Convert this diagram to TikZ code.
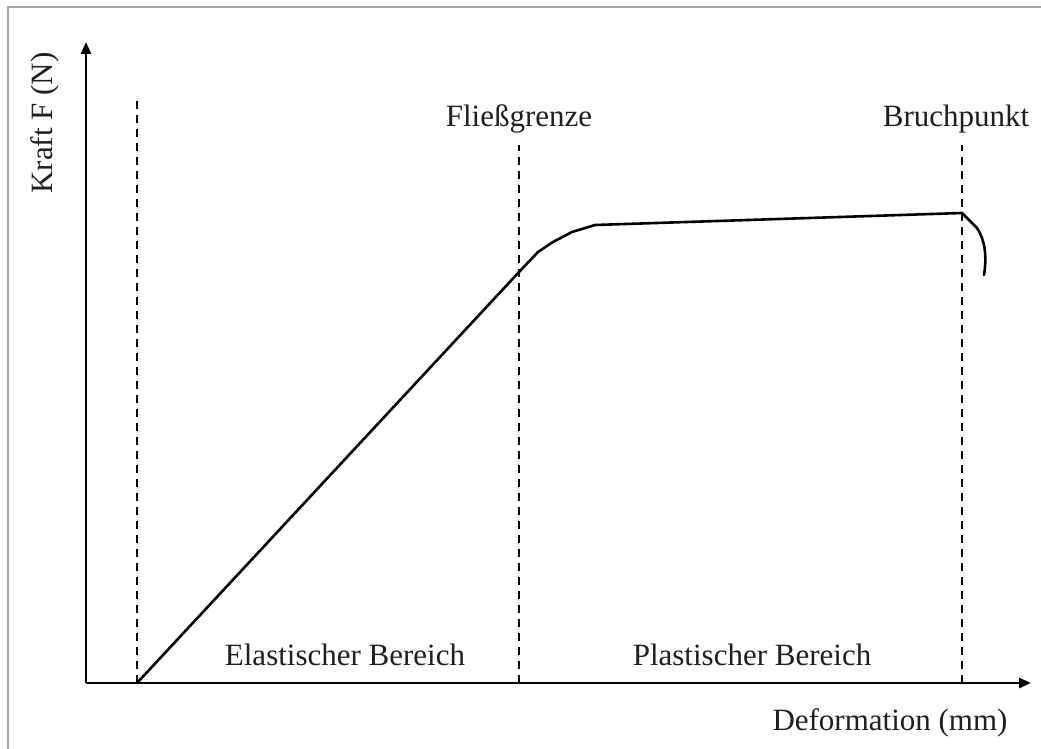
\documentclass[tikz,border=0pt]{standalone}
\usepackage{fontspec}
\setmainfont{Liberation Serif}
\usetikzlibrary{arrows.meta}
\begin{document}
\begin{tikzpicture}[x=1pt,y=-1pt,
  axis/.style={line width=2.6pt,-{Triangle[length=12pt,width=10pt]}},
  guide/.style={line width=2.6pt,dash pattern=on 8pt off 6pt},
  curve/.style={line width=2.6pt,line join=round,line cap=round},
  frame/.style={line width=2pt,draw=black!35},
  lbl/.style={font=\fontsize{31}{37}\selectfont,text=black!88,inner sep=0pt}]
\useasboundingbox (0,0) rectangle (1041,749);
\draw[frame] (8,749) -- (8,7) -- (1041,7);
% coordinates
\coordinate (O) at (86,683);
\coordinate (Ytip) at (86,42);
\coordinate (Xtip) at (1031,683);
\coordinate (g1b) at (137,683); \coordinate (g1t) at (137,96);
\coordinate (g2b) at (519,683); \coordinate (g2t) at (519,145);
\coordinate (g3b) at (962,683); \coordinate (g3t) at (962,145);
% axes
\draw[axis] (O) -- (Ytip);
\draw[axis] (O) -- (Xtip);
% guides
\draw[guide] (g1b) -- (g1t);
\draw[guide] (g2b) -- (g2t);
\draw[guide] (g3b) -- (g3t);
% curve
\coordinate (c0) at (137,683);
\coordinate (c1) at (519,272);
\coordinate (c2) at (538,252);
\coordinate (c3) at (553,242);
\coordinate (c4) at (572,232);
\coordinate (c5) at (595,225);
\coordinate (c6) at (962,213);
\coordinate (c7) at (977,228);
\coordinate (c8) at (984,275);
\draw[curve] (c0) -- (c1) -- (c2) -- (c3) -- (c4) -- (c5) -- (c6) -- (c7)
  .. controls (985,240) and (987,256) .. (c8);
% labels
\node[lbl,rotate=90,anchor=base] (ylab) at (52,123) {Kraft F (N)};
\node[lbl,anchor=base] (fg) at (519,127) {Fließgrenze};
\node[lbl,anchor=base] (bp) at (956,127) {Bruchpunkt};
\node[lbl,anchor=base] (el) at (345,665) {Elastischer Bereich};
\node[lbl,anchor=base] (pl) at (752,665) {Plastischer Bereich};
\node[lbl,anchor=base] (xlab) at (890,730) {Deformation (mm)};
\end{tikzpicture}
\end{document}
